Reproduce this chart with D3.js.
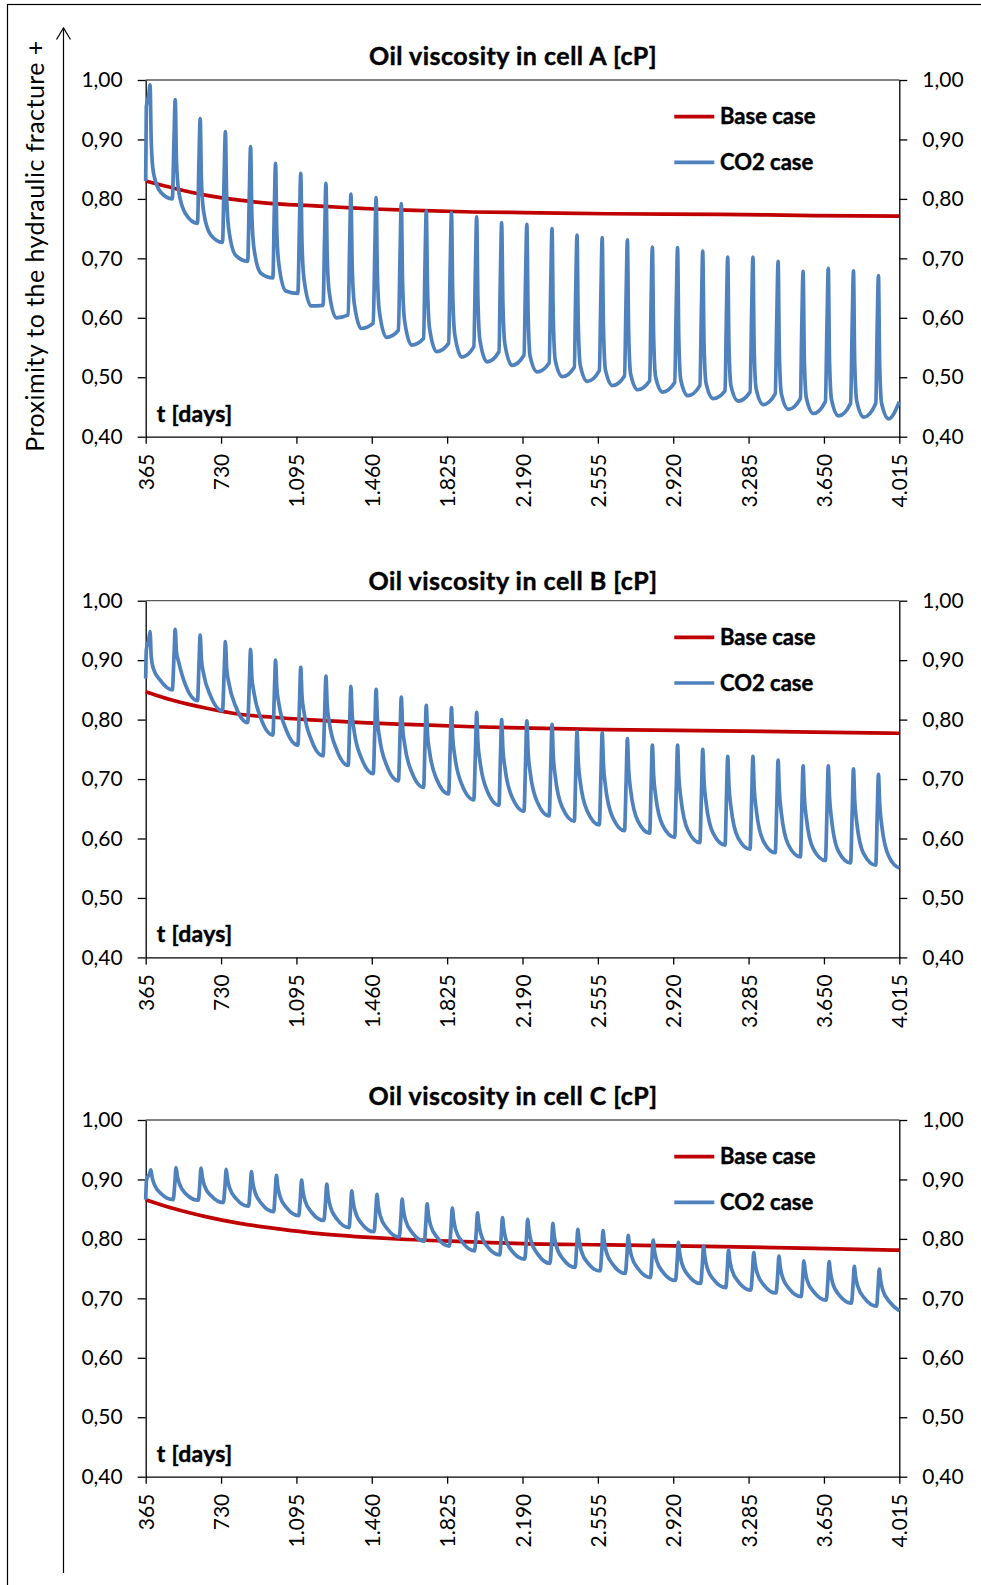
<!DOCTYPE html>
<html>
<head>
<meta charset="utf-8">
<script src="https://cdn.jsdelivr.net/npm/d3@7"></script>
<style>
    body { margin: 0; background: #fff; }
    svg { display: block; font-family: Lato, "Noto Sans", sans-serif; }
    .bold { font-weight: bold; stroke: #000; stroke-width: 0.45px; }
</style>
</head>
<body>
<div id="chart"></div>
<script>
// time axis (days)
const xTicks = [365, 730, 1095, 1460, 1825, 2190, 2555, 2920, 3285, 3650, 4015];
const yTicks = [0.4, 0.5, 0.6, 0.7, 0.8, 0.9, 1.0];

// days of the CO2 injection peaks (every ~4 months)
const peakDays = [386, 508, 629, 751, 873, 994, 1116, 1238, 1359, 1481, 1603, 1724, 1846, 1968, 2089,
    2211, 2333, 2454, 2576, 2698, 2819, 2941, 3063, 3184, 3306, 3428, 3549, 3671, 3793, 3914];

// base case curves
const baseDays = [365, 500, 660, 820, 980, 1145, 1305, 1470, 1630, 1950, 2190, 2600, 3150, 3600, 4015];
const baseA = [0.830, 0.818, 0.806, 0.798, 0.792, 0.789, 0.786, 0.783, 0.781, 0.778, 0.777, 0.775, 0.774, 0.772, 0.771];
const baseB = [0.847, 0.832, 0.819, 0.809, 0.804, 0.800, 0.797, 0.794, 0.792, 0.788, 0.786, 0.783, 0.781, 0.779, 0.777];
const baseC = [0.866, 0.851, 0.837, 0.826, 0.818, 0.811, 0.806, 0.802, 0.799, 0.795, 0.792, 0.790, 0.787, 0.784, 0.781];

// CO2 case, cell A: start, then per cycle rise / peak / after fall / tail / low / before next rise
const startA = [[365, 0.830], [368, 0.955]];
const riseA = [0.975, 0.900, 0.865, 0.839, 0.811, 0.783, 0.762, 0.744, 0.727, 0.718, 0.707, 0.694, 0.689, 0.682, 0.673,
    0.669, 0.660, 0.650, 0.645, 0.639, 0.629, 0.627, 0.622, 0.612, 0.611, 0.606, 0.592, 0.593, 0.590, 0.585];
const peakA = [0.992, 0.967, 0.935, 0.913, 0.888, 0.860, 0.843, 0.826, 0.808, 0.802, 0.792, 0.780, 0.777, 0.770, 0.760,
    0.757, 0.750, 0.739, 0.735, 0.731, 0.719, 0.718, 0.712, 0.702, 0.702, 0.695, 0.678, 0.683, 0.679, 0.671];
const fallA = [0.895, 0.865, 0.830, 0.805, 0.775, 0.745, 0.725, 0.705, 0.690, 0.675, 0.662, 0.650, 0.642, 0.632, 0.625,
    0.610, 0.600, 0.590, 0.585, 0.578, 0.570, 0.565, 0.560, 0.552, 0.548, 0.540, 0.530, 0.528, 0.525, 0.520];
const tailA = [0.845, 0.815, 0.780, 0.750, 0.718, 0.690, 0.665, 0.643, 0.625, 0.610, 0.595, 0.582, 0.572, 0.562, 0.555,
    0.535, 0.528, 0.520, 0.512, 0.505, 0.500, 0.495, 0.490, 0.485, 0.480, 0.472, 0.465, 0.462, 0.460, 0.455];
const lowA = [0.812, 0.775, 0.740, 0.705, 0.675, 0.645, 0.620, 0.600, 0.582, 0.567, 0.554, 0.543, 0.534, 0.526, 0.520,
    0.509, 0.501, 0.493, 0.486, 0.479, 0.475, 0.469, 0.464, 0.460, 0.454, 0.446, 0.439, 0.435, 0.433, 0.430];
const preA = [0.800, 0.759, 0.727, 0.695, 0.667, 0.641, 0.621, 0.605, 0.591, 0.579, 0.565, 0.557, 0.551, 0.543, 0.537,
    0.524, 0.517, 0.511, 0.502, 0.494, 0.491, 0.486, 0.477, 0.475, 0.472, 0.464, 0.459, 0.456, 0.456, 0.459];

// CO2 case, cell B
const startB = [[365, 0.869], [368, 0.917]];
const riseB = [0.935, 0.906, 0.893, 0.879, 0.863, 0.843, 0.829, 0.813, 0.796, 0.787, 0.775, 0.762, 0.755, 0.746, 0.735,
    0.730, 0.723, 0.712, 0.708, 0.698, 0.690, 0.687, 0.679, 0.671, 0.668, 0.662, 0.653, 0.650, 0.646, 0.639];
const peakB = [0.948, 0.952, 0.942, 0.931, 0.918, 0.900, 0.888, 0.873, 0.856, 0.851, 0.838, 0.824, 0.820, 0.812, 0.800,
    0.798, 0.792, 0.780, 0.778, 0.768, 0.757, 0.757, 0.750, 0.738, 0.738, 0.732, 0.722, 0.722, 0.717, 0.708];
const fallB = [0.905, 0.914, 0.901, 0.887, 0.872, 0.854, 0.840, 0.825, 0.809, 0.802, 0.789, 0.776, 0.770, 0.762, 0.751,
    0.747, 0.740, 0.730, 0.725, 0.717, 0.707, 0.705, 0.698, 0.688, 0.686, 0.680, 0.671, 0.670, 0.665, 0.659];
const tailB = [0.886, 0.898, 0.878, 0.863, 0.846, 0.827, 0.812, 0.796, 0.780, 0.771, 0.759, 0.746, 0.739, 0.730, 0.719,
    0.712, 0.704, 0.695, 0.688, 0.681, 0.672, 0.668, 0.661, 0.652, 0.649, 0.642, 0.634, 0.632, 0.627, 0.622];
const lowB = [0.866, 0.858, 0.840, 0.822, 0.802, 0.784, 0.767, 0.751, 0.736, 0.724, 0.712, 0.700, 0.691, 0.681, 0.670,
    0.662, 0.652, 0.646, 0.636, 0.630, 0.622, 0.614, 0.609, 0.601, 0.596, 0.589, 0.582, 0.578, 0.574, 0.570];
const preB = [0.850, 0.832, 0.815, 0.795, 0.774, 0.757, 0.739, 0.723, 0.709, 0.697, 0.686, 0.675, 0.665, 0.656, 0.646,
    0.638, 0.629, 0.623, 0.613, 0.609, 0.602, 0.593, 0.589, 0.582, 0.576, 0.569, 0.563, 0.559, 0.555, 0.550];

// CO2 case, cell C (peaks a few days later)
const startC = [[365, 0.866], [369, 0.899]];
const riseC = [0.910, 0.893, 0.892, 0.889, 0.884, 0.877, 0.869, 0.862, 0.850, 0.844, 0.835, 0.828, 0.820, 0.812, 0.805,
    0.800, 0.793, 0.784, 0.780, 0.774, 0.767, 0.762, 0.757, 0.750, 0.746, 0.740, 0.733, 0.730, 0.723, 0.718];
const peakC = [0.916, 0.920, 0.919, 0.917, 0.913, 0.907, 0.899, 0.892, 0.881, 0.875, 0.867, 0.859, 0.852, 0.844, 0.836,
    0.833, 0.826, 0.816, 0.814, 0.806, 0.798, 0.794, 0.788, 0.781, 0.777, 0.771, 0.763, 0.762, 0.754, 0.749];
const fallC = [0.904, 0.906, 0.905, 0.901, 0.896, 0.890, 0.882, 0.874, 0.864, 0.857, 0.849, 0.841, 0.834, 0.826, 0.818,
    0.815, 0.807, 0.799, 0.796, 0.788, 0.781, 0.777, 0.771, 0.764, 0.760, 0.754, 0.747, 0.745, 0.737, 0.732];
const tailC = [0.892, 0.893, 0.890, 0.886, 0.880, 0.873, 0.865, 0.856, 0.847, 0.839, 0.832, 0.824, 0.816, 0.809, 0.800,
    0.797, 0.789, 0.781, 0.778, 0.771, 0.764, 0.760, 0.753, 0.748, 0.743, 0.737, 0.730, 0.727, 0.721, 0.715];
const lowC = [0.876, 0.875, 0.872, 0.867, 0.859, 0.852, 0.844, 0.833, 0.825, 0.817, 0.810, 0.802, 0.794, 0.786, 0.778,
    0.774, 0.766, 0.759, 0.756, 0.749, 0.743, 0.738, 0.731, 0.727, 0.722, 0.716, 0.710, 0.705, 0.700, 0.694];
const preC = [0.866, 0.865, 0.861, 0.855, 0.846, 0.839, 0.831, 0.819, 0.812, 0.803, 0.796, 0.788, 0.780, 0.773, 0.766,
    0.759, 0.752, 0.746, 0.742, 0.735, 0.730, 0.725, 0.718, 0.714, 0.709, 0.703, 0.697, 0.692, 0.687, 0.679];

const titles = ['Oil viscosity in cell A [cP]', 'Oil viscosity in cell B [cP]', 'Oil viscosity in cell C [cP]'];
const seriesNames = ['Base case', 'CO2 case'];

function buildSeries(start, rise, peak, fall, tail, low, pre, lag) {
    const pts = start.slice();
    peakDays.forEach((d, i) => {
        const t = d + lag;
        pts.push([t - 6, rise[i]], [t, peak[i]], [t + 6, fall[i]], [t + 16, tail[i]], [t + 50, low[i]],
            [Math.min(t + 108, 4015), pre[i]]);
    });
    return pts;
}

const panels = [
    { title: titles[0], base: baseA, co2: buildSeries(startA, riseA, peakA, fallA, tailA, lowA, preA, 0) },
    { title: titles[1], base: baseB, co2: buildSeries(startB, riseB, peakB, fallB, tailB, lowB, preB, 0) },
    { title: titles[2], base: baseC, co2: buildSeries(startC, riseC, peakC, fallC, tailC, lowC, preC, 4) }
];
const layout = [
    { top: 80, titleY: 65 },
    { top: 600.7, titleY: 589.5 },
    { top: 1120, titleY: 1105 }
];

const W = 981, H = 1585;
const left = 145.7, right = 899.3, plotH = 356.7;
const red = '#c00000', blue = '#4f81bd';

const locale = d3.formatLocale({ decimal: ',', thousands: '.', grouping: [3], currency: ['', ''] });
const fmtY = locale.format('.2f');
const fmtX = locale.format(',d');

const svg = d3.select('#chart').append('svg')
    .attr('width', W)
    .attr('height', H);

svg.append('rect').attr('width', W).attr('height', H).attr('fill', '#fff');

// outer frame (runs off the picture on right and bottom)
svg.append('rect')
    .attr('x', 7.5).attr('y', 4.5)
    .attr('width', 1000).attr('height', 1600)
    .attr('fill', 'none').attr('stroke', '#000').attr('stroke-width', 1.2);

// proximity arrow
svg.append('line')
    .attr('x1', 63.5).attr('x2', 63.5).attr('y1', 28).attr('y2', 1573)
    .attr('stroke', '#000').attr('stroke-width', 1.2);
svg.append('path')
    .attr('d', 'M56.5,39.5 L63.5,28 L70.5,39.5')
    .attr('fill', 'none').attr('stroke', '#000').attr('stroke-width', 1.2);
svg.append('text')
    .attr('transform', 'translate(44,246) rotate(-90)')
    .attr('text-anchor', 'middle')
    .attr('font-size', 25)
    .attr('letter-spacing', 0.45)
    .attr('fill', '#000')
    .text('Proximity to the hydraulic fracture +');

const x = d3.scaleLinear().domain([365, 4015]).range([left, right]);

panels.forEach((p, i) => {
    const top = layout[i].top;
    const bottom = top + plotH;
    const y = d3.scaleLinear().domain([0.4, 1.0]).range([bottom, top]);
    const g = svg.append('g');

    // top border
    g.append('line')
        .attr('x1', left).attr('x2', right).attr('y1', top).attr('y2', top)
        .attr('stroke', '#595959').attr('stroke-width', 1.3);

    const yLeft = g.append('g')
        .attr('transform', `translate(${left},0)`)
        .call(d3.axisLeft(y).tickValues(yTicks).tickSize(8).tickSizeOuter(0).tickPadding(15).tickFormat(fmtY));
    const yRight = g.append('g')
        .attr('transform', `translate(${right},0)`)
        .call(d3.axisRight(y).tickValues(yTicks).tickSize(8).tickSizeOuter(0).tickPadding(15).tickFormat(fmtY));
    const xAxis = g.append('g')
        .attr('transform', `translate(0,${bottom})`)
        .call(d3.axisBottom(x).tickValues(xTicks).tickSize(7).tickSizeOuter(0).tickFormat(fmtX));

    xAxis.selectAll('text')
        .attr('transform', 'rotate(-90)')
        .attr('text-anchor', 'end')
        .attr('x', -17)
        .attr('y', 0)
        .attr('dy', '0.36em');

    [yLeft, yRight, xAxis].forEach(a => {
        a.selectAll('path, line').attr('stroke', '#000').attr('stroke-width', 1.3);
        a.selectAll('text').attr('font-size', 21).attr('fill', '#000')
            .attr('font-family', 'Lato, "Noto Sans", sans-serif');
    });

    // title
    g.append('text')
        .attr('class', 'bold')
        .attr('x', 513).attr('y', layout[i].titleY)
        .attr('text-anchor', 'middle')
        .attr('font-size', 25)
        .attr('letter-spacing', 0.5)
        .text(p.title);

    const line = d3.line()
        .x(d => x(d[0]))
        .y(d => y(d[1]))
        .curve(d3.curveMonotoneX);

    // base case
    g.append('path')
        .datum(baseDays.map((d, k) => [d, p.base[k]]))
        .attr('d', line)
        .attr('fill', 'none')
        .attr('stroke', red)
        .attr('stroke-width', 3.7);

    // CO2 case
    g.append('path')
        .datum(p.co2)
        .attr('d', line)
        .attr('fill', 'none')
        .attr('stroke', blue)
        .attr('stroke-width', 3.7)
        .attr('stroke-linejoin', 'round');

    // x title inside the plot
    g.append('text')
        .attr('class', 'bold')
        .attr('x', 156.7).attr('y', bottom - 15)
        .attr('font-size', 23)
        .attr('letter-spacing', 0.3)
        .text('t [days]');

    // legend
    const legend = g.append('g');
    [red, blue].forEach((c, k) => {
        const ly = top + 36.7 + k * 45.6;
        legend.append('line')
            .attr('x1', 674.3).attr('x2', 714.3).attr('y1', ly).attr('y2', ly)
            .attr('stroke', c).attr('stroke-width', 3.7);
        legend.append('text')
            .attr('class', 'bold')
            .attr('x', 720).attr('y', ly)
            .attr('dy', '0.35em')
            .attr('font-size', 22)
            .text(seriesNames[k]);
    });
});
</script>
</body>
</html>
